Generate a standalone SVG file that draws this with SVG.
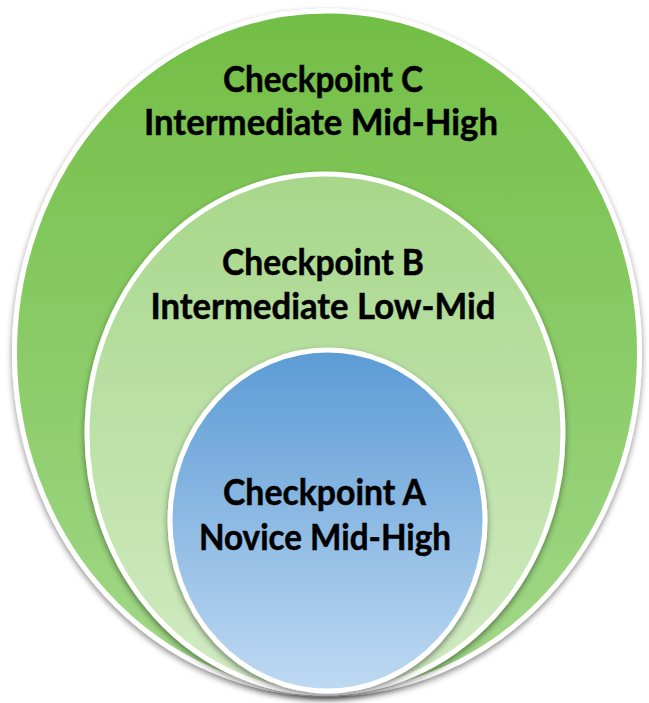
<svg xmlns="http://www.w3.org/2000/svg" width="649" height="703" viewBox="0 0 649 703">
  <style>
    .ring { stroke: #FFFFFF; stroke-width: 5; filter: url(#shadow); }
    .label { font-family: "Lato", "Open Sans", "Liberation Sans", sans-serif; font-weight: bold; font-size: 36px; fill: #000000; stroke: #000000; stroke-width: 0.5; text-anchor: middle; }
  </style>
  <defs>
    <linearGradient id="gC" x1="0" y1="0" x2="0" y2="1">
      <stop offset="0" stop-color="#72BE45"/>
      <stop offset="1" stop-color="#A3D98A"/>
    </linearGradient>
    <linearGradient id="gB" x1="0" y1="0" x2="0" y2="1">
      <stop offset="0" stop-color="#A7D78A"/>
      <stop offset="1" stop-color="#D2EBC4"/>
    </linearGradient>
    <linearGradient id="gA" x1="0" y1="0" x2="0" y2="1">
      <stop offset="0" stop-color="#5B9BD5"/>
      <stop offset="1" stop-color="#BFD9F2"/>
    </linearGradient>
    <filter id="shadow" x="-10%" y="-10%" width="120%" height="120%">
      <feDropShadow dx="0" dy="3" stdDeviation="3" flood-color="#000000" flood-opacity="0.45"/>
    </filter>
  </defs>

  <g id="checkpoint-c">
    <ellipse class="ring" cx="327" cy="352.5" rx="312.5" ry="341.5" fill="url(#gC)"/>
    <text class="label" x="323" y="92" textLength="200" lengthAdjust="spacingAndGlyphs">Checkpoint C</text>
    <text class="label" x="321" y="135" textLength="354" lengthAdjust="spacingAndGlyphs">Intermediate Mid-High</text>
  </g>

  <g id="checkpoint-b">
    <ellipse class="ring" cx="325" cy="433.5" rx="238" ry="259.5" fill="url(#gB)"/>
    <text class="label" x="323" y="275" textLength="202" lengthAdjust="spacingAndGlyphs">Checkpoint B</text>
    <text class="label" x="323" y="319" textLength="345" lengthAdjust="spacingAndGlyphs">Intermediate Low-Mid</text>
  </g>

  <g id="checkpoint-a">
    <ellipse class="ring" cx="327.5" cy="520.5" rx="157.5" ry="170.5" fill="url(#gA)"/>
    <text class="label" x="324.5" y="505" textLength="203" lengthAdjust="spacingAndGlyphs">Checkpoint A</text>
    <text class="label" x="325" y="550" textLength="252" lengthAdjust="spacingAndGlyphs">Novice Mid-High</text>
  </g>

  <g id="connectors"/>
</svg>
